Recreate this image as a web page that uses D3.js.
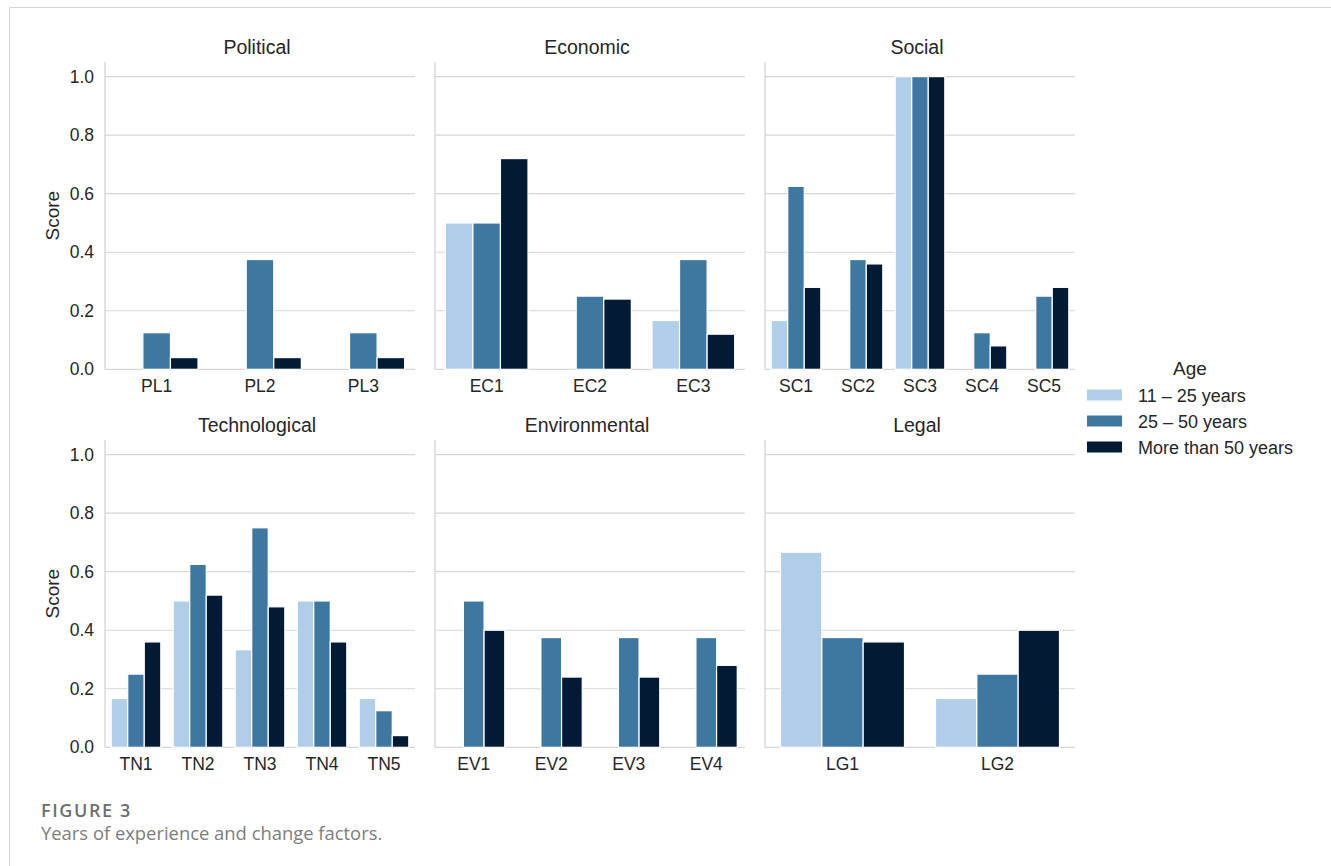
<!DOCTYPE html>
<html>
<head>
<meta charset="utf-8">
<script src="https://cdn.jsdelivr.net/npm/d3@7"></script>
<style>
    body { margin: 0; background: #fff; }
    svg text { font-family: "Liberation Sans", Arial, sans-serif; fill: #262626; }
    .caption text { font-family: "Open Sans", sans-serif; }
</style>
</head>
<body>
<svg id="chart" width="1331" height="866"></svg>
<script>

//////////////////////
// Data
//////////////////////

var ageGroups = ["11 – 25 years", "25 – 50 years", "More than 50 years"];
var ageColors = ["#b0cee9", "#3e78a0", "#031a35"];

var factorNames = ["Political", "Economic", "Social", "Technological", "Environmental", "Legal"];

var factorCodes = [
    ["PL1", "PL2", "PL3"],
    ["EC1", "EC2", "EC3"],
    ["SC1", "SC2", "SC3", "SC4", "SC5"],
    ["TN1", "TN2", "TN3", "TN4", "TN5"],
    ["EV1", "EV2", "EV3", "EV4"],
    ["LG1", "LG2"]
];

// one row per code: [11-25, 25-50, >50]
var politicalScores     = [[0, 0.125, 0.04], [0, 0.375, 0.04], [0, 0.125, 0.04]];
var economicScores      = [[0.5, 0.5, 0.72], [0, 0.25, 0.24], [0.1667, 0.375, 0.12]];
var socialScores        = [[0.1667, 0.625, 0.28], [0, 0.375, 0.36], [1, 1, 1], [0, 0.125, 0.08], [0, 0.25, 0.28]];
var technologicalScores = [[0.1667, 0.25, 0.36], [0.5, 0.625, 0.52], [0.3333, 0.75, 0.48], [0.5, 0.5, 0.36], [0.1667, 0.125, 0.04]];
var environmentalScores = [[0, 0.5, 0.4], [0, 0.375, 0.24], [0, 0.375, 0.24], [0, 0.375, 0.28]];
var legalScores         = [[0.6667, 0.375, 0.36], [0.1667, 0.25, 0.4]];

var factorScores = [politicalScores, economicScores, socialScores, technologicalScores, environmentalScores, legalScores];

var scoreTicks = [0, 0.2, 0.4, 0.6, 0.8, 1.0];

//////////////////////
// Layout
//////////////////////

var svg = d3.select("#chart");

var colLeft = [105, 435, 765];
var panelW = 310;
var rowTop = [62, 440];
var rowBase = [369.3, 747.3];

// figure frame
svg.append("path")
    .attr("d", "M9.5,866 V7.5 H1331")
    .attr("fill", "none")
    .attr("stroke", "#d4d4d4")
    .attr("stroke-width", 1);

//////////////////////
// Panels
//////////////////////

function drawPanel(i) {

    var col = i % 3;
    var row = Math.floor(i / 3);
    var left = colLeft[col];
    var right = left + panelW;

    var y = d3.scaleLinear().domain([0, 1.05]).range([rowBase[row], rowTop[row]]);
    var x0 = d3.scaleBand().domain(factorCodes[i]).range([left, right]).padding(0);
    var x1 = d3.scaleBand().domain(ageGroups).range([0, x0.bandwidth() * 0.8]).padding(0);

    var g = svg.append("g").attr("class", "panel");

    // grid lines
    g.selectAll("line.grid")
        .data(scoreTicks)
        .enter()
        .append("line")
            .attr("class", "grid")
            .attr("x1", left)
            .attr("x2", right)
            .attr("y1", function(d) { return y(d); })
            .attr("y2", function(d) { return y(d); })
            .attr("stroke", "#d6d6d6")
            .attr("stroke-width", 1.2);

    // left spine
    g.append("line")
        .attr("x1", left).attr("x2", left)
        .attr("y1", y(1.05)).attr("y2", y(0))
        .attr("stroke", "#d0d0d0")
        .attr("stroke-width", 1.2);

    // bars
    var groups = g.selectAll("g.group")
        .data(factorScores[i])
        .enter()
        .append("g")
            .attr("class", "group")
            .attr("transform", function(d, k) {
                return "translate(" + (x0(factorCodes[i][k]) + x0.bandwidth() * 0.1) + ",0)";
            });

    groups.selectAll("rect")
        .data(function(d) {
            return d.map(function(v, a) { return { age: ageGroups[a], value: v, color: ageColors[a] }; })
                    .filter(function(e) { return e.value > 0; });
        })
        .enter()
        .append("rect")
            .attr("x", function(d) { return x1(d.age); })
            .attr("width", x1.bandwidth())
            .attr("y", function(d) { return y(d.value); })
            .attr("height", function(d) { return y(0) - y(d.value); })
            .attr("fill", function(d) { return d.color; })
            .attr("stroke", "#fff")
            .attr("stroke-width", 1.2);

    // x tick labels
    var xAxis = g.append("g")
        .attr("transform", "translate(0," + y(0) + ")")
        .call(d3.axisBottom(x0).tickSize(0).tickPadding(10));
    xAxis.select(".domain").remove();
    xAxis.selectAll("text")
        .attr("font-size", "17.5px")
        .attr("font-family", null)
        .attr("fill", "#262626");

    // y tick labels on the first column only
    if (col === 0) {
        var yAxis = g.append("g")
            .attr("transform", "translate(" + left + ",0)")
            .call(d3.axisLeft(y).tickValues(scoreTicks).tickFormat(d3.format(".1f")).tickSize(0).tickPadding(11));
        yAxis.select(".domain").remove();
        yAxis.selectAll("text")
            .attr("font-size", "17.5px")
            .attr("font-family", null)
            .attr("fill", "#262626");

        g.append("text")
            .attr("transform", "translate(59," + ((rowTop[row] + rowBase[row]) / 2) + ") rotate(-90)")
            .attr("text-anchor", "middle")
            .attr("font-size", "19px")
            .text("Score");
    }

    // panel title
    g.append("text")
        .attr("x", (left + right) / 2 - 3)
        .attr("y", rowTop[row] - 8)
        .attr("text-anchor", "middle")
        .attr("font-size", "19.5px")
        .text(factorNames[i]);
}

factorNames.forEach(function(name, i) { drawPanel(i); });

//////////////////////
// Legend
//////////////////////

var legend = svg.append("g").attr("class", "legend");

legend.append("text")
    .attr("x", 1190)
    .attr("y", 375)
    .attr("text-anchor", "middle")
    .attr("font-size", "19px")
    .text("Age");

var items = legend.selectAll("g.item")
    .data(ageGroups)
    .enter()
    .append("g")
        .attr("class", "item")
        .attr("transform", function(d, k) { return "translate(1087," + (395 + k * 26) + ")"; });

items.append("rect")
    .attr("x", 0)
    .attr("y", -5.5)
    .attr("width", 35)
    .attr("height", 11)
    .attr("fill", function(d, k) { return ageColors[k]; });

items.append("text")
    .attr("x", 51)
    .attr("y", 6.5)
    .attr("font-size", "18px")
    .text(function(d) { return d; });

//////////////////////
// Caption
//////////////////////

var caption = svg.append("g").attr("class", "caption");

caption.append("text")
    .attr("x", 41)
    .attr("y", 817)
    .attr("font-size", "18px")
    .attr("font-weight", 600)
    .attr("letter-spacing", "1.6px")
    .style("fill", "#6e6e6e")
    .text("FIGURE 3");

caption.append("text")
    .attr("x", 41)
    .attr("y", 840)
    .attr("font-size", "18.4px")
    .style("fill", "#7d7d7d")
    .text("Years of experience and change factors.");

</script>
</body>
</html>
